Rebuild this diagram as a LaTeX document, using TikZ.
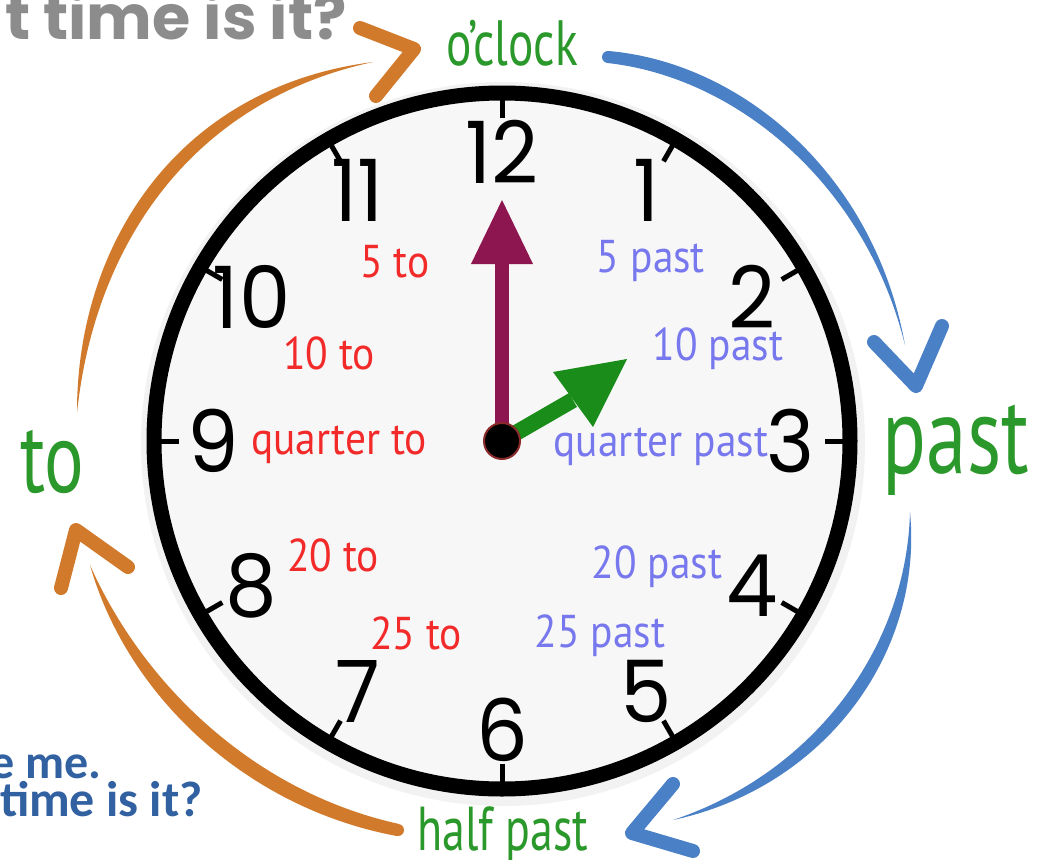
\documentclass[tikz,border=0pt]{standalone}
\usepackage{fontspec}
\usetikzlibrary{calc}
\newfontfamily\numfont[FakeStretch=0.95]{Poppins}
\newfontfamily\lblfont[FakeStretch=0.9]{PT Sans}
\newfontfamily\grnfont[FakeStretch=0.74]{PT Sans}
\newfontfamily\ttlfont{Poppins}
\newfontfamily\bluefont{Carlito}
\definecolor{orangec}{HTML}{D27A2C}
\definecolor{bluec}{HTML}{4A80C6}
\definecolor{maroonc}{HTML}{8E1650}
\definecolor{handgreen}{HTML}{1A8C1A}
\definecolor{lblred}{HTML}{F22A2A}
\definecolor{lblblue}{HTML}{7878EE}
\definecolor{txtgreen}{HTML}{2A982A}
\definecolor{ttlgray}{HTML}{8C8C8C}
\definecolor{ttlblue}{HTML}{3161A0}
\definecolor{facec}{HTML}{F7F7F7}
\definecolor{dotred}{HTML}{8B2A2A}
\tikzset{
  num/.style={font=\numfont\fontsize{86}{86}\selectfont, inner sep=0},
  redlbl/.style={font=\lblfont\fontsize{46}{46}\selectfont, text=lblred, anchor=base, inner sep=0},
  bluelbl/.style={font=\lblfont\fontsize{46}{46}\selectfont, text=lblblue, anchor=base, inner sep=0},
  grn/.style={text=txtgreen, anchor=base, inner sep=0},
  chev/.style={line width=14, line cap=round, line join=round},
}
\begin{document}
\begin{tikzpicture}[x=1pt,y=-1pt]
\clip (0,0) rectangle (1045,860);
\fill[white] (0,0) rectangle (1045,860);

% titles (cut off)
\node[font=\ttlfont\bfseries\fontsize{62}{62}\selectfont, text=ttlgray, anchor=base east, inner sep=0] (ttl) at (347,39) {t time is it?};
\node[font=\bluefont\bfseries\fontsize{48}{48}\selectfont, text=ttlblue, anchor=base east, inner sep=0] (bl1) at (102,778) {e me.};
\node[font=\bluefont\bfseries\fontsize{50}{50}\selectfont, text=ttlblue, anchor=base east, inner sep=0] (bl2) at (203,816) {time is it?};

% clock face
\coordinate (c) at (502,441);
\draw[black!5, line width=24] (503,444) circle (350);
\draw[line width=15, fill=facec] (c) circle (348);
\foreach \a in {0,30,...,330}
  \draw[line width=5, shift={(c)}] (\a:342) -- (\a:323);
\foreach \n in {1,...,12}
  \node[num] (n\n) at ($(c)+(\n*30-90:289)$) {\n};

% labels
\node[redlbl] (t5)  at (395,277) {5 to};
\node[redlbl] (t10) at (329,369) {10 to};
\node[redlbl] (t15) at (339,454) {quarter to};
\node[redlbl] (t20) at (333,571) {20 to};
\node[redlbl] (t25) at (416,649) {25 to};
\node[bluelbl] (p5)  at (651,272) {5 past};
\node[bluelbl] (p10) at (718,360) {10 past};
\node[bluelbl] (p15) at (661,456) {quarter past};
\node[bluelbl] (p20) at (657,578) {20 past};
\node[bluelbl] (p25) at (600,647) {25 past};

% green words
\node[grn, font=\grnfont\fontsize{64}{64}\selectfont] (oclock) at (512,65) {o’clock};
\node[grn, font=\grnfont\fontsize{110}{110}\selectfont] (past) at (956,473) {past};
\node[grn, font=\grnfont\fontsize{100}{100}\selectfont] (to) at (52,492) {to};
\node[grn, font=\grnfont\fontsize{62}{62}\selectfont] (half) at (503,850) {half past};

% hands
\coordinate (mtip) at (502,200);
\coordinate (mbase) at (502,255);
\draw[maroonc, line width=14] (c) -- (mbase);
\fill[maroonc] (mtip) -- (471,264) -- (533,264) -- cycle;
\coordinate (htip) at (627,359);
\coordinate (hbase) at (573,400);
\draw[handgreen, line width=16] (c) -- (hbase);
\fill[handgreen] (htip) -- (553,372) -- (593,427) -- cycle;
\node[circle, fill=black, draw=dotred, line width=2, minimum size=36, inner sep=0] (ctr) at (c) {};

% orange arrow: to -> o'clock (tapered both ends)
\coordinate (o1s) at (77,413);
\coordinate (o1e) at (373,62);
\fill[orangec] (o1s) .. controls (93.5,252.8) and (185,102.6) .. (o1e)
   .. controls (175,87.4) and (76.5,247.2) .. (o1s) -- cycle;
\draw[orangec, chev] (360,28) -- (414,49) -- (376,96);
% orange arrow: half past -> to
\coordinate (o2s) at (398,830);
\coordinate (o2e) at (90,565);
\fill[orangec] (o2e) .. controls (143,684.6) and (254.2,792.1) .. ($(o2s)+(1.2,-6)$)
   -- ($(o2s)+(-1.2,6)$) .. controls (245.8,807.9) and (127,695.4) .. (o2e) -- cycle;
\fill[orangec] (o2s) circle (6);
\draw[orangec, chev] (128,567) -- (76,530) -- (61,588);

% blue arrow: o'clock -> past
\coordinate (bb1s) at (608,57);
\coordinate (bb1e) at (905,345);
\fill[bluec] ($(bb1s)+(-0.7,6)$) .. controls (736.1,77) and (865.2,183.6) .. (bb1e)
   .. controls (874.8,176.4) and (743.9,63) .. ($(bb1s)+(0.7,-6)$) -- cycle;
\fill[bluec] (bb1s) circle (6);
\draw[bluec, chev] (874,342) -- (916,386) -- (942,326);
% blue arrow: past -> half past
\coordinate (bb2s) at (910,512);
\coordinate (bb2e) at (673,820);
\fill[bluec] (bb2s) .. controls (923.5,652.9) and (825.1,787.4) .. (bb2e)
   .. controls (814.9,772.6) and (906.5,647.1) .. (bb2s) -- cycle;
\draw[bluec, chev] (673,784) -- (632,833) -- (693,851);
\end{tikzpicture}
\end{document}
